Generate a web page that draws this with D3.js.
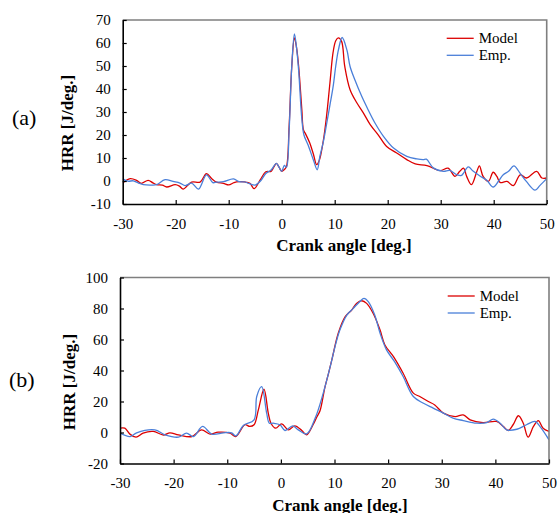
<!DOCTYPE html>
<html>
<head>
<meta charset="utf-8">
<script src="https://cdn.jsdelivr.net/npm/d3@7"></script>
<style>
  body { margin: 0; background: #fff; }
  svg { display: block; }
  svg text { font-family: "Liberation Serif", "Times New Roman", serif; }
</style>
</head>
<body>
<div id="chart"></div>
<script>
// tick values
const angleTicks = [-30, -20, -10, 0, 10, 20, 30, 40, 50];
const aHrrTicks = [-10, 0, 10, 20, 30, 40, 50, 60, 70];
const bHrrTicks = [-20, 0, 20, 40, 60, 80, 100];
const seriesNames = ["Model", "Emp."];
const seriesColors = ["#dc0000", "#4a7fd9"];

// panel (a)
const aModelAngle = [-30, -28.6, -27.4, -26.5, -25.2, -24.3, -23.6, -22.5, -21.7, -20.1, -19.3, -18.6, -17, -15.4, -14.2,
  -13.2, -12.3, -11, -10, -9, -8, -7, -6, -5.2, -4, -3, -2, -1.5, -1, -0.5, 0, 0.5, 0.9, 1.4, 1.9,
  2.4, 2.8, 3.2, 3.8, 4.1, 4.5, 5.3, 6, 6.6, 7.1, 7.85, 8.5, 9.1, 9.7, 10.2, 10.7, 11.3, 11.9, 12.9, 14.2,
  15.4, 16.7, 18.2, 19.8, 21.7, 23.6, 25.2, 27.4, 29.9, 31.4, 32.7, 33.6, 34.3, 34.9, 35.8,
  36.8, 37.3, 38, 39, 39.9, 40.6, 41.2, 42.5, 43.7, 45, 46.2, 48.1, 49.1, 50];
const aModelHrr = [-0.9, 1, 0.3, -1, 0.3, -0.8, -1.6, -1.8, -2.6, -1.6, -2.2, -3.5, -0.5, -0.5, 3.2,
  1, -0.5, -1, -1.7, -0.7, -0.3, -0.4, -1, -3.3, 0.7, 4, 4.2, 6, 7.7, 6, 4.2, 5, 6.3, 23.7, 49.8,
  62.2, 58, 49.8, 31, 22.3, 20.5, 16.5, 11.5, 7.1, 9, 17.5, 29, 42.6, 56, 61, 62.2, 60.7, 49.8, 39.7, 33.9,
  29.6, 24.5, 20.1, 15, 12.2, 9.3, 7.4, 6.7, 4.5, 5.6, 2, 4.2, 5.6, 2, -1.6,
  4, 6.6, 2, -0.2, 3.8, 2, -0.6, -0.2, -2, 2.7, 1.3, 4.2, 1.3, 1.3];

const aEmpAngle = [-30, -29, -28, -27, -26.1, -24.5, -23.6, -22, -20.5, -19.2, -18.2, -17, -15.7, -14.2, -13,
  -12.3, -11, -9.1, -8, -7, -6, -5, -4, -3, -2, -1, -0.5, 0, 0.5, 0.9,
  1.4, 1.9, 2.4, 2.8, 3.2, 3.8, 4.2, 5, 6, 6.7, 7.2, 7.85, 8.5, 9.1, 9.7,
  10.2, 10.7, 11.4, 12.3, 12.9, 13.8, 15.1, 16.3, 17.6, 19.2, 21.1, 23.6, 25.5, 26.7, 27.3,
  28.6, 30.5, 31.7, 33, 33.9, 35.2, 36.1, 37.4, 38.7, 39.9, 40.9, 41.8, 42.8, 43.8, 45,
  46.2, 47.8, 48.7, 50];
const aEmpHrr = [0.9, -0.1, 0.1, -0.9, -1.6, -1.8, -1.6, 0.6, -0.2, -0.9, -2, -0.9, -3.5, 2.7, -0.7,
  -0.5, -0.3, 0.9, -0.3, -0.4, -1.3, -1.8, 0, 3.3, 4.8, 7.7, 6, 4.2, 6.8, 6,
  22, 50, 64, 58, 48, 27, 20, 15.5, 9, 4.9, 10.7, 17, 25.2, 33, 41,
  50, 57, 62.4, 57, 49.8, 44, 36.8, 31, 25.2, 19.4, 14.3, 10.7, 9.6, 9.3, 9.5,
  5.7, 4.2, 4.6, 2.8, 2.4, 6.1, 4.3, 2.2, 0.3, -2.6, -0.1, 2.7, 4.2, 6.6, 3.3,
  -0.3, -4, -2, 1];

// panel (b)
const bModelAngle = [-30, -29.1, -28.1, -27, -25.7, -23.8, -21.9, -20.7, -19.1, -16.6, -14.8, -13.2, -11.7, -9.5, -8.4, -6.7,
  -5.8, -5, -4.2, -3.15, -2.35, -1.85, -0.97, 0.15, 1.4, 2.6, 3.9, 4.8, 6, 6.7, 7.3,
  8.2, 8.8, 9.5, 10.7, 12, 13.2, 14.1, 15.1, 16, 17.2, 18.5, 19.4, 21, 22.8, 24.7,
  25.9, 27.5, 28.7, 30.3, 32.5, 34, 35.3, 37.7, 40.2, 41.5, 42.4, 43.3, 44.3, 45.2, 46.1,
  47.1, 48, 48.9, 50];
const bModelHrr = [2.8, 2.8, -1.2, -3, -0.4, 0.7, -1.6, -0.2, -1.5, -2.6, 1.7, -1, 0.2, -0.4, -2.6, 5,
  3.9, 5, 14.6, 27.9, 12.5, 6, 2.8, 5.6, 1.7, 4.3, 1.3, -1.5, 5, 10, 14,
  29, 37, 46.8, 64, 74.7, 79, 83.3, 85, 83.3, 76.9, 66.1, 56.5, 48.9, 38.2, 25.4,
  23.2, 20, 17.8, 12.5, 10.3, 11.4, 8.2, 6.4, 7.1, 3.9, 1.3, 5, 10.8, 6, -3,
  3.9, 7.7, 2.8, 0.7];

const bEmpAngle = [-30, -28.1, -26.9, -23.5, -21.6, -19.1, -17.6, -16.3, -14.6, -12.9, -10.7, -9.2, -8.4, -7, -5,
  -4.5, -3.58, -2.65, -2.15, -1.4, -0.17, 0.77, 2.2, 3.25, 4.8, 6.4, 7.9, 9.2, 10.1, 11,
  12.3, 13.5, 14.7, 15.5, 16.3, 17.5, 18.5, 19.7, 21.2, 22.8, 24.7, 26.5, 28.4, 30.3, 32.1,
  34, 36.5, 38.4, 39.6, 40.9, 42.1, 44, 45.8, 47.4, 48.3, 50];
const bEmpHrr = [-0.4, -2.6, -0.2, 1.7, -1.5, -3, -0.4, -2.6, 3.9, -1, -0.2, -0.2, -2.2, 4.5, 8.2,
  23.2, 29.6, 12.5, 6, 6, 5, 1.3, 4.3, 1.7, -0.9, 9.3, 25.4, 42.5, 55.4, 66.1,
  75.8, 80.1, 84.4, 86.5, 84.4, 75.8, 64, 53.3, 45.7, 36.1, 23.2, 19, 15.7, 12.5, 9.3,
  7.7, 6, 6.4, 8.6, 6, 1.7, 2.1, 5, 7.1, 3.9, -4.7];

const width = 558, height = 513;
const font = "'Liberation Serif', 'Times New Roman', serif";
const plain = d => String(d);   // hyphen minus like the original

const svg = d3.select("#chart").append("svg")
  .attr("width", width)
  .attr("height", height)
  .attr("font-family", font)
  .attr("viewBox", [0, 0, width, height].join(" "));

const panels = [
  { tag: "(a)", left: 122.7, right: 546.7, top: 20, bottom: 204, domain: [-10, 70], ticks: aHrrTicks,
    series: [[aModelAngle, aModelHrr], [aEmpAngle, aEmpHrr]],
    tagX: 12, tagY: 125, yLabX: 67, yLabY: 123, xLabX: 344, legX: 446.7, legY: 38.3 },
  { tag: "(b)", left: 120, right: 549, top: 277.5, bottom: 463.5, domain: [-20, 100], ticks: bHrrTicks,
    series: [[bModelAngle, bModelHrr], [bEmpAngle, bEmpHrr]],
    tagX: 9, tagY: 387, yLabX: 69, yLabY: 382, xLabX: 340, legX: 447.7, legY: 296 }
];

panels.forEach(p => {
  const x = d3.scaleLinear().domain([-30, 50]).range([p.left, p.right]);
  const y = d3.scaleLinear().domain(p.domain).range([p.bottom, p.top]);
  const g = svg.append("g");

  // clip so the lines stay in the plot area
  const clipId = "clip" + p.tag.replace(/\W/g, "");
  svg.append("clipPath").attr("id", clipId)
    .append("rect")
    .attr("x", p.left).attr("y", p.top)
    .attr("width", p.right - p.left).attr("height", p.bottom - p.top);

  // lines
  const line = d3.line()
    .x(d => x(d[0]))
    .y(d => y(d[1]))
    .curve(d3.curveCatmullRom.alpha(0.5));

  p.series.forEach((s, i) => {
    const pts = s[0].map((a, k) => [a, s[1][k]]);
    g.append("path")
      .attr("clip-path", "url(#" + clipId + ")")
      .attr("d", line(pts))
      .attr("fill", "none")
      .attr("stroke", seriesColors[i])
      .attr("stroke-width", 1.3);
  });

  // gray frame on top and right
  g.append("path")
    .attr("d", "M" + p.left + "," + p.top + "H" + p.right + "V" + p.bottom)
    .attr("fill", "none")
    .attr("stroke", "#7f7f7f")
    .attr("stroke-width", 1.6);

  // axes, ticks pointing inward
  const xAxis = g.append("g")
    .attr("transform", "translate(0," + p.bottom + ")")
    .call(d3.axisBottom(x).tickValues(angleTicks).tickSize(-4).tickSizeOuter(0).tickPadding(9)
      .tickFormat(plain));
  const yAxis = g.append("g")
    .attr("transform", "translate(" + p.left + ",0)")
    .call(d3.axisLeft(y).tickValues(p.ticks).tickSize(-4).tickSizeOuter(0).tickPadding(12)
      .tickFormat(plain));

  [xAxis, yAxis].forEach(ax => {
    ax.attr("font-family", font).attr("font-size", 15);
    ax.select(".domain").attr("stroke", "#000").attr("stroke-width", 1.6);
    ax.selectAll(".tick line").attr("stroke", "#000").attr("stroke-width", 1.2);
    ax.selectAll(".tick text").attr("fill", "#000");
  });
  xAxis.selectAll(".tick text").attr("dy", "1.05em");

  // axis titles
  g.append("text")
    .attr("x", p.xLabX)
    .attr("y", p.bottom + 47)
    .attr("text-anchor", "middle")
    .style("font-size", "17px")
    .style("font-weight", "bold")
    .text("Crank angle [deg.]");

  g.append("text")
    .attr("transform", "translate(" + p.yLabX + "," + p.yLabY + ") rotate(-90)")
    .attr("text-anchor", "middle")
    .attr("dy", "0.35em")
    .style("font-size", "17px")
    .style("font-weight", "bold")
    .text("HRR [J/deg.]");

  // panel tag
  g.append("text")
    .attr("x", p.tagX)
    .attr("y", p.tagY)
    .style("font-size", "22px")
    .text(p.tag);

  // legend
  const leg = g.append("g");
  seriesNames.forEach((name, i) => {
    const ly = p.legY + i * 17;
    leg.append("line")
      .attr("x1", p.legX).attr("x2", p.legX + 27)
      .attr("y1", ly).attr("y2", ly)
      .attr("stroke", seriesColors[i])
      .attr("stroke-width", 1.3);
    leg.append("text")
      .attr("x", p.legX + 32)
      .attr("y", ly + 5)
      .style("font-size", "15px")
      .text(name);
  });
});
</script>
</body>
</html>
